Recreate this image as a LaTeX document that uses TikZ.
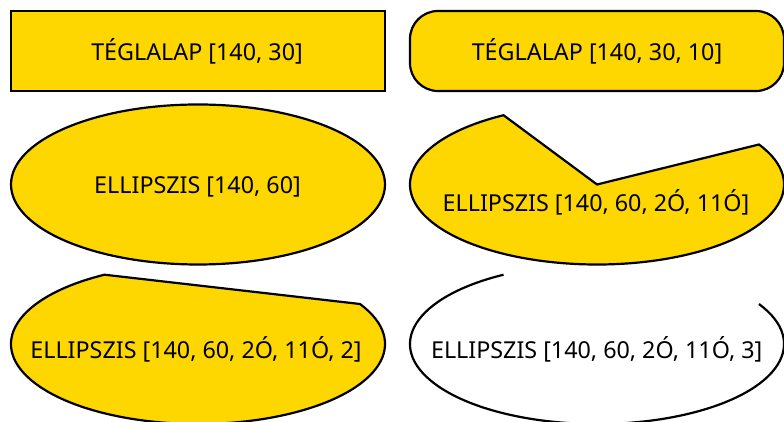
\documentclass[tikz,border=0pt]{standalone}
\usepackage{fontspec}
\setmainfont{Noto Sans}
\usetikzlibrary{calc}
\definecolor{gold}{RGB}{255,215,0}
\begin{document}
\begin{tikzpicture}[x=1pt,y=1pt,
  shapestyle/.style={draw=black,line width=2.2pt,line join=miter},
  filled/.style={shapestyle,fill=gold},
  lbl/.style={anchor=base,inner sep=0pt,font=\fontsize{23.3}{28}\selectfont}]
\useasboundingbox (0,0) rectangle (784,422);
% row 1
\draw[filled] (11,411) rectangle (385,331);
\draw[filled,rounded corners=28pt] (410,411) rectangle (784,331);
\node[lbl] (t1) at (197,361) {TÉGLALAP [140, 30]};
\node[lbl] (t2) at (597,361) {TÉGLALAP [140, 30, 10]};
% row 2
\coordinate (c1) at (198,237.5);
\coordinate (c2) at (597,237.5);
\draw[filled] (c1) ellipse[x radius=187, y radius=80];
\node[lbl] (t3) at (197.5,228.7) {ELLIPSZIS [140, 60]};
\draw[filled] (c2) -- ($(c2)+(30:187 and 80)$) arc[start angle=30, end angle=-240, x radius=187, y radius=80] -- cycle;
\node[lbl] (t4) at (596,210.3) {ELLIPSZIS [140, 60, 2Ó, 11Ó]};
% row 3
\coordinate (c3) at (198,78);
\coordinate (c4) at (597,78);
\draw[filled] ($(c3)+(30:187 and 80)$) arc[start angle=30, end angle=-240, x radius=187, y radius=80] -- cycle;
\node[lbl] (t5) at (196,63.7) {ELLIPSZIS [140, 60, 2Ó, 11Ó, 2]};
\draw[shapestyle] ($(c4)+(30:187 and 80)$) arc[start angle=30, end angle=-240, x radius=187, y radius=80];
\node[lbl] (t6) at (596.7,63) {ELLIPSZIS [140, 60, 2Ó, 11Ó, 3]};
\end{tikzpicture}
\end{document}
